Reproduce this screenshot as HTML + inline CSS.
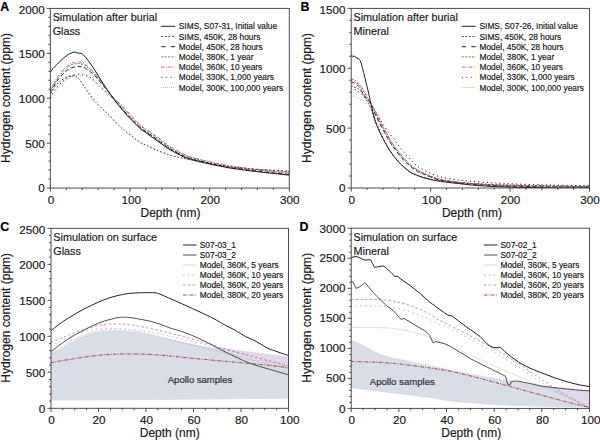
<!DOCTYPE html>
<html>
<head>
<meta charset="utf-8">
<title>Hydrogen content vs depth</title>
<style>
html,body{margin:0;padding:0;background:#ffffff;}
body{width:600px;height:441px;overflow:hidden;font-family:"Liberation Sans",sans-serif;}
svg{display:block;}
</style>
</head>
<body>
<svg width="600" height="441" viewBox="0 0 600 441" font-family="'Liberation Sans', sans-serif">
<rect width="600" height="441" fill="#ffffff"/>
<clipPath id="cpA"><rect x="50.35" y="8.40" width="238.95" height="179.65"/></clipPath>
<g clip-path="url(#cpA)">
<path d="M50.5,93.5 C51.2,92.3 53.4,88.5 55.0,86.5 C56.6,84.5 58.2,83.0 60.0,81.5 C61.8,80.0 63.8,78.5 66.0,77.5 C68.2,76.5 71.0,75.5 73.0,75.6 C75.0,75.7 76.0,76.0 78.0,78.0 C80.0,80.0 82.5,84.0 85.0,87.5 C87.5,91.0 90.3,95.7 93.0,99.0 C95.7,102.3 98.3,104.8 101.0,107.5 C103.7,110.2 106.0,112.2 109.2,115.4 C112.4,118.6 117.0,123.8 120.0,126.6 C123.0,129.4 123.7,129.8 127.0,132.4 C130.3,135.0 136.7,140.0 140.0,142.2 C143.3,144.4 144.5,144.4 147.0,145.6 C149.5,146.8 152.0,148.1 155.0,149.4 C158.0,150.7 161.7,152.2 165.0,153.4 C168.3,154.6 170.8,155.4 175.0,156.5 C179.2,157.6 184.3,158.6 190.0,159.8 C195.7,161.0 202.3,162.6 209.0,163.8 C215.7,165.0 223.2,166.1 230.0,167.0 C236.8,167.9 243.3,168.4 250.0,169.0 C256.7,169.6 263.5,169.9 270.0,170.3 C276.5,170.7 285.8,171.3 289.0,171.5" fill="none" stroke="#333" stroke-width="0.9" stroke-dasharray="1.9 1.7" stroke-linejoin="round"/>
<path d="M50.5,98.0 C51.1,96.8 52.4,93.3 54.0,91.0 C55.6,88.7 57.8,86.1 60.0,84.0 C62.2,81.9 64.7,80.0 67.0,78.5 C69.3,77.0 71.7,75.8 74.0,75.0 C76.3,74.2 78.4,73.9 80.6,74.0 C82.8,74.1 84.9,74.6 87.0,75.5 C89.1,76.4 90.8,77.7 93.0,79.5 C95.2,81.3 97.8,84.4 100.0,86.5 C102.2,88.6 103.8,89.9 106.0,92.0 C108.2,94.1 111.0,96.7 113.3,99.0 C115.6,101.3 117.5,103.3 120.0,106.0 C122.5,108.7 124.7,111.6 128.0,115.1 C131.3,118.6 135.5,123.1 140.0,126.9 C144.5,130.6 150.0,134.0 155.0,137.6 C160.0,141.2 165.0,145.3 170.0,148.4 C175.0,151.5 180.0,154.3 185.0,156.4 C190.0,158.5 195.0,159.5 200.0,160.8 C205.0,162.1 210.0,163.2 215.0,164.2 C220.0,165.2 224.2,165.9 230.0,166.6 C235.8,167.3 243.3,168.0 250.0,168.6 C256.7,169.2 263.5,169.6 270.0,170.0 C276.5,170.4 285.8,171.0 289.0,171.2" fill="none" stroke="#222222" stroke-width="1.0" stroke-dasharray="1.2 3" stroke-linejoin="round"/>
<path d="M50.5,99.5 C51.2,98.2 53.2,94.5 55.0,92.0 C56.8,89.5 58.8,86.7 61.0,84.5 C63.2,82.3 65.7,80.4 68.0,79.0 C70.3,77.6 72.8,76.6 75.0,76.0 C77.2,75.4 78.8,75.0 81.0,75.2 C83.2,75.4 85.8,76.0 88.0,77.0 C90.2,78.0 91.8,79.7 94.0,81.5 C96.2,83.3 98.8,85.9 101.0,88.0 C103.2,90.1 105.0,92.1 107.0,94.0 C109.0,95.9 111.1,97.4 113.3,99.6 C115.5,101.8 117.5,104.4 120.0,107.2 C122.5,110.0 124.7,112.8 128.0,116.3 C131.3,119.8 135.5,124.3 140.0,128.1 C144.5,131.8 150.0,135.2 155.0,138.8 C160.0,142.4 165.0,146.5 170.0,149.6 C175.0,152.7 180.0,155.5 185.0,157.6 C190.0,159.7 195.0,160.7 200.0,162.0 C205.0,163.3 210.0,164.3 215.0,165.4 C220.0,166.5 224.2,167.4 230.0,168.3 C235.8,169.2 243.3,170.2 250.0,171.0 C256.7,171.8 263.5,172.7 270.0,173.4 C276.5,174.1 285.8,175.1 289.0,175.4" fill="none" stroke="#9a9a9a" stroke-width="0.8" stroke-dasharray="0.8 1.2" stroke-linejoin="round"/>
<path d="M50.5,93.0 C51.1,91.8 52.6,88.4 54.0,86.0 C55.4,83.6 57.2,80.8 59.0,78.5 C60.8,76.2 63.0,73.8 65.0,72.0 C67.0,70.2 68.8,68.9 71.0,68.0 C73.2,67.1 75.8,66.6 78.0,66.5 C80.2,66.4 82.0,66.7 84.0,67.5 C86.0,68.3 88.0,69.9 90.0,71.5 C92.0,73.1 94.0,74.9 96.0,77.0 C98.0,79.1 100.0,81.6 102.0,84.0 C104.0,86.4 106.1,89.1 108.0,91.5 C109.9,93.9 111.3,95.7 113.3,98.2 C115.3,100.7 117.5,103.5 120.0,106.4 C122.5,109.3 124.7,112.0 128.0,115.5 C131.3,119.0 135.5,123.5 140.0,127.3 C144.5,131.1 150.0,134.4 155.0,138.0 C160.0,141.6 165.0,145.7 170.0,148.8 C175.0,151.9 180.0,154.7 185.0,156.8 C190.0,158.9 195.0,159.9 200.0,161.2 C205.0,162.5 210.0,163.5 215.0,164.6 C220.0,165.7 224.2,166.6 230.0,167.5 C235.8,168.4 243.3,169.3 250.0,170.2 C256.7,171.0 263.5,171.9 270.0,172.6 C276.5,173.3 285.8,174.3 289.0,174.6" fill="none" stroke="#222222" stroke-width="1.0" stroke-dasharray="4 2.6" stroke-linejoin="round"/>
<path d="M50.5,91.5 C51.1,90.3 52.6,87.0 54.0,84.5 C55.4,82.0 57.2,79.0 59.0,76.5 C60.8,74.0 63.0,71.4 65.0,69.5 C67.0,67.6 69.0,66.0 71.0,65.0 C73.0,64.0 75.0,63.6 77.0,63.5 C79.0,63.4 81.0,63.7 83.0,64.5 C85.0,65.3 87.0,66.8 89.0,68.5 C91.0,70.2 93.0,72.2 95.0,74.5 C97.0,76.8 99.0,79.4 101.0,82.0 C103.0,84.6 105.0,87.4 107.0,90.0 C109.0,92.6 111.0,95.2 113.3,97.8 C115.6,100.4 118.4,102.6 121.0,105.4 C123.6,108.2 125.7,111.0 129.0,114.5 C132.3,118.0 136.5,122.5 141.0,126.3 C145.5,130.1 151.0,133.4 156.0,137.0 C161.0,140.6 166.0,144.7 171.0,147.8 C176.0,150.9 181.0,153.7 186.0,155.8 C191.0,157.9 196.0,158.9 201.0,160.2 C206.0,161.5 211.0,162.5 216.0,163.6 C221.0,164.7 225.2,165.6 231.0,166.5 C236.8,167.4 244.3,168.3 251.0,169.2 C257.7,170.0 264.5,170.9 271.0,171.6 C277.5,172.3 286.8,173.3 290.0,173.6" fill="none" stroke="#555555" stroke-width="0.8" stroke-dasharray="2 1.4" stroke-linejoin="round"/>
<path d="M50.5,90.0 C51.1,88.8 52.6,85.5 54.0,83.0 C55.4,80.5 57.2,77.5 59.0,75.0 C60.8,72.5 63.0,69.9 65.0,68.0 C67.0,66.1 69.1,64.5 71.0,63.5 C72.9,62.5 74.8,61.9 76.6,61.8 C78.4,61.7 80.1,62.0 82.0,62.8 C83.9,63.6 86.0,64.9 88.0,66.5 C90.0,68.1 92.0,70.2 94.0,72.5 C96.0,74.8 98.0,77.4 100.0,80.0 C102.0,82.6 103.8,85.1 106.0,88.0 C108.2,90.9 110.7,94.7 113.3,97.5 C115.9,100.3 118.9,102.2 121.6,105.0 C124.3,107.8 126.3,110.6 129.6,114.1 C132.9,117.6 137.1,122.1 141.6,125.9 C146.1,129.6 151.6,133.0 156.6,136.6 C161.6,140.2 166.6,144.3 171.6,147.4 C176.6,150.5 181.6,153.3 186.6,155.4 C191.6,157.5 196.6,158.5 201.6,159.8 C206.6,161.1 211.6,162.1 216.6,163.2 C221.6,164.2 225.8,165.2 231.6,166.1 C237.4,167.0 244.9,167.9 251.6,168.8 C258.3,169.6 265.1,170.5 271.6,171.2 C278.1,171.9 287.4,172.9 290.6,173.2" fill="none" stroke="#c0506a" stroke-width="0.9" stroke-dasharray="3.2 1.4 1 1.4" stroke-linejoin="round"/>
<path d="M50.5,72.0 L53.0,68.6 L55.0,66.4 L57.5,64.0 L60.0,61.3 L63.0,58.5 L66.0,56.2 L69.0,54.0 L71.0,53.2 L74.0,52.0 L76.5,52.6 L78.5,53.2 L81.0,53.2 L82.5,54.0 L85.0,56.6 L88.0,60.3 L92.0,66.0 L96.0,72.0 L100.0,78.5 L104.0,85.0 L108.5,91.5 L113.3,98.4 L120.0,107.0 L128.0,116.4 L140.0,128.5 L155.0,139.3 L170.0,149.8 L185.0,157.5 L200.0,161.8 L215.0,165.0 L230.0,168.0 L250.0,170.8 L270.0,173.0 L289.0,175.0" fill="none" stroke="#222222" stroke-width="1.0" stroke-linejoin="round"/>
</g>
<rect x="50.35" y="8.40" width="238.95" height="179.65" fill="none" stroke="#454545" stroke-width="0.95"/>
<text x="44.65" y="192.45" font-size="11.7" text-anchor="end" font-weight="normal" fill="#1a1a1a" stroke="#1a1a1a" stroke-width="0.18">0</text>
<text x="44.65" y="147.54" font-size="11.7" text-anchor="end" font-weight="normal" fill="#1a1a1a" stroke="#1a1a1a" stroke-width="0.18">500</text>
<text x="44.65" y="102.63" font-size="11.7" text-anchor="end" font-weight="normal" fill="#1a1a1a" stroke="#1a1a1a" stroke-width="0.18">1000</text>
<text x="44.65" y="57.71" font-size="11.7" text-anchor="end" font-weight="normal" fill="#1a1a1a" stroke="#1a1a1a" stroke-width="0.18">1500</text>
<text x="44.65" y="13.50" font-size="11.7" text-anchor="end" font-weight="normal" fill="#1a1a1a" stroke="#1a1a1a" stroke-width="0.18">2000</text>
<text x="50.90" y="204.00" font-size="11.7" text-anchor="middle" font-weight="normal" fill="#1a1a1a" stroke="#1a1a1a" stroke-width="0.18">0</text>
<text x="131.20" y="204.00" font-size="11.7" text-anchor="middle" font-weight="normal" fill="#1a1a1a" stroke="#1a1a1a" stroke-width="0.18">100</text>
<text x="210.20" y="204.00" font-size="11.7" text-anchor="middle" font-weight="normal" fill="#1a1a1a" stroke="#1a1a1a" stroke-width="0.18">200</text>
<text x="289.85" y="204.00" font-size="11.7" text-anchor="middle" font-weight="normal" fill="#1a1a1a" stroke="#1a1a1a" stroke-width="0.18">300</text>
<path d="M46.75,188.05H50.35M46.75,143.14H50.35M46.75,98.23H50.35M46.75,53.31H50.35M46.75,8.40H50.35M48.35,179.07H50.35M48.35,170.09H50.35M48.35,161.10H50.35M48.35,152.12H50.35M48.35,134.16H50.35M48.35,125.17H50.35M48.35,116.19H50.35M48.35,107.21H50.35M48.35,89.24H50.35M48.35,80.26H50.35M48.35,71.28H50.35M48.35,62.30H50.35M48.35,44.33H50.35M48.35,35.35H50.35M48.35,26.37H50.35M48.35,17.38H50.35M50.35,188.05V191.65M130.00,188.05V191.65M209.65,188.05V191.65M289.30,188.05V191.65M66.28,188.05V190.05M82.21,188.05V190.05M98.14,188.05V190.05M114.07,188.05V190.05M145.93,188.05V190.05M161.86,188.05V190.05M177.79,188.05V190.05M193.72,188.05V190.05M225.58,188.05V190.05M241.51,188.05V190.05M257.44,188.05V190.05M273.37,188.05V190.05" stroke="#454545" stroke-width="0.95" fill="none"/>
<text x="0.30" y="10.80" font-size="12.4" text-anchor="start" font-weight="bold" fill="#000" stroke="#000" stroke-width="0.18">A</text>
<text x="52.65" y="21.10" font-size="10.8" text-anchor="start" font-weight="normal" fill="#1a1a1a" stroke="#1a1a1a" stroke-width="0.18">Simulation after burial</text>
<text x="52.65" y="34.80" font-size="10.8" text-anchor="start" font-weight="normal" fill="#1a1a1a" stroke="#1a1a1a" stroke-width="0.18">Glass</text>
<text x="170.53" y="216.90" font-size="12.0" text-anchor="middle" font-weight="normal" fill="#1a1a1a" stroke="#1a1a1a" stroke-width="0.18">Depth (nm)</text>
<text x="0.00" y="0.00" font-size="12.05" text-anchor="middle" font-weight="normal" fill="#1a1a1a" stroke="#1a1a1a" stroke-width="0.18" transform="translate(9.90,97.98) rotate(-90)">Hydrogen content (ppm)</text>
<path d="M161.30,26.30H175.30" stroke="#222222" stroke-width="1.0" fill="none"/>
<text x="178.80" y="29.30" font-size="8.35" text-anchor="start" font-weight="normal" fill="#1a1a1a" stroke="#1a1a1a" stroke-width="0.18">SIMS, S07-31, Initial value</text>
<path d="M161.30,36.50H175.30" stroke="#333" stroke-width="0.9" stroke-dasharray="1.9 1.7" fill="none"/>
<text x="178.80" y="39.50" font-size="8.35" text-anchor="start" font-weight="normal" fill="#1a1a1a" stroke="#1a1a1a" stroke-width="0.18">SIMS, 450K, 28 hours</text>
<path d="M161.30,46.70H175.30" stroke="#222222" stroke-width="1.0" stroke-dasharray="4.3 5.2" fill="none"/>
<text x="178.80" y="49.70" font-size="8.35" text-anchor="start" font-weight="normal" fill="#1a1a1a" stroke="#1a1a1a" stroke-width="0.18">Model, 450K, 28 hours</text>
<path d="M161.30,56.90H175.30" stroke="#555555" stroke-width="0.8" stroke-dasharray="2 1.4" fill="none"/>
<text x="178.80" y="59.90" font-size="8.35" text-anchor="start" font-weight="normal" fill="#1a1a1a" stroke="#1a1a1a" stroke-width="0.18">Model, 380K, 1 year</text>
<path d="M161.30,67.10H175.30" stroke="#c0506a" stroke-width="0.9" stroke-dasharray="3.2 1.4 1 1.4" fill="none"/>
<text x="178.80" y="70.10" font-size="8.35" text-anchor="start" font-weight="normal" fill="#1a1a1a" stroke="#1a1a1a" stroke-width="0.18">Model, 360K, 10 years</text>
<path d="M161.30,77.30H175.30" stroke="#444" stroke-width="1.0" stroke-dasharray="1.2 3.4" fill="none"/>
<text x="178.80" y="80.30" font-size="8.35" text-anchor="start" font-weight="normal" fill="#1a1a1a" stroke="#1a1a1a" stroke-width="0.18">Model, 330K, 1,000 years</text>
<path d="M161.30,87.50H175.30" stroke="#9a9a9a" stroke-width="0.8" stroke-dasharray="0.8 1.2" fill="none"/>
<text x="178.80" y="90.50" font-size="8.35" text-anchor="start" font-weight="normal" fill="#1a1a1a" stroke="#1a1a1a" stroke-width="0.18">Model, 300K, 100,000 years</text>
<clipPath id="cpB"><rect x="351.20" y="8.40" width="238.30" height="179.60"/></clipPath>
<g clip-path="url(#cpB)">
<path d="M350.6,86.2 C351.2,86.3 352.8,86.6 354.0,87.0 C355.2,87.4 356.7,87.8 358.0,88.7 C359.3,89.6 360.8,91.0 362.0,92.5 C363.2,94.0 364.0,96.3 365.0,98.0 C366.0,99.7 367.2,101.2 368.0,102.6 C368.8,104.0 369.1,104.3 370.0,106.5 C370.9,108.7 372.3,113.0 373.5,116.0 C374.7,119.0 375.9,121.8 377.0,124.4 C378.1,127.0 378.8,128.9 380.0,131.5 C381.2,134.1 382.8,137.6 384.0,140.0 C385.2,142.4 386.2,144.3 387.0,145.8 C387.8,147.3 387.8,147.1 389.0,149.0 C390.2,150.9 392.6,154.6 394.5,157.0 C396.4,159.4 397.5,161.1 400.4,163.7 C403.3,166.3 407.9,170.5 411.7,172.8 C415.5,175.1 419.3,176.1 423.0,177.3 C426.7,178.5 430.1,179.3 434.0,180.0 C437.9,180.7 440.5,180.6 446.5,181.2 C452.5,181.8 462.8,182.9 470.0,183.4 C477.2,183.9 483.3,184.1 490.0,184.4 C496.7,184.7 500.0,184.8 510.0,185.0 C520.0,185.2 536.8,185.6 550.0,185.8 C563.2,186.0 582.5,186.2 589.0,186.3" fill="none" stroke="#333" stroke-width="0.9" stroke-dasharray="1.9 1.7" stroke-linejoin="round"/>
<path d="M350.6,88.5 C351.5,88.8 354.3,89.2 356.0,90.0 C357.7,90.8 359.3,92.1 361.0,93.5 C362.7,94.9 364.5,97.0 366.0,98.5 C367.5,100.0 368.6,100.4 370.1,102.5 C371.6,104.6 373.4,108.2 375.0,111.0 C376.6,113.8 378.0,116.0 380.0,119.2 C382.0,122.4 384.4,126.5 387.0,130.2 C389.6,133.9 392.7,137.5 395.5,141.2 C398.3,144.9 401.2,149.0 404.0,152.4 C406.8,155.8 409.7,159.0 412.5,161.7 C415.3,164.4 416.8,166.1 421.0,168.5 C425.2,170.9 432.3,174.3 438.0,176.2 C443.7,178.0 449.7,178.8 455.0,179.6 C460.3,180.4 464.2,180.7 470.0,181.2 C475.8,181.7 483.3,182.3 490.0,182.7 C496.7,183.1 500.0,183.4 510.0,183.8 C520.0,184.2 536.8,184.7 550.0,185.0 C563.2,185.3 582.5,185.6 589.0,185.7" fill="none" stroke="#222222" stroke-width="1.0" stroke-dasharray="1.2 3" stroke-linejoin="round"/>
<path d="M350.6,95.5 C351.3,95.7 353.4,96.2 355.0,96.8 C356.6,97.4 358.5,98.2 360.0,99.0 C361.5,99.8 362.8,100.5 364.0,101.3 C365.2,102.1 366.0,103.0 367.0,104.0 C368.0,105.0 368.9,105.8 370.1,107.5 C371.3,109.2 372.6,112.4 374.0,114.5 C375.4,116.6 377.1,117.6 378.6,120.0 C380.1,122.4 381.6,125.9 383.1,128.7 C384.6,131.5 386.2,134.5 387.6,137.0 C389.0,139.5 390.2,141.6 391.6,143.8 C393.0,146.0 393.9,147.2 396.1,150.0 C398.3,152.8 401.8,157.5 404.6,160.5 C407.4,163.5 410.3,165.9 413.1,168.0 C415.9,170.1 417.4,171.1 421.6,173.0 C425.9,174.9 432.9,177.9 438.6,179.5 C444.3,181.1 450.3,181.8 455.6,182.5 C460.9,183.2 464.8,183.5 470.6,184.0 C476.4,184.5 483.9,185.0 490.6,185.4 C497.3,185.8 500.6,186.0 510.6,186.2 C520.6,186.4 537.4,186.6 550.6,186.8 C563.8,187.0 583.1,187.1 589.6,187.2" fill="none" stroke="#9a9a9a" stroke-width="0.8" stroke-dasharray="0.8 1.2" stroke-linejoin="round"/>
<path d="M350.6,82.2 C351.2,82.3 352.9,82.5 354.0,83.0 C355.1,83.5 356.0,84.2 357.0,85.0 C358.0,85.8 359.2,86.9 360.0,88.0 C360.8,89.1 361.0,90.0 362.0,91.7 C363.0,93.4 364.6,96.1 366.0,98.0 C367.4,99.9 368.8,100.8 370.1,103.0 C371.4,105.2 372.7,108.7 374.0,111.5 C375.3,114.3 376.6,117.1 378.0,120.0 C379.4,122.9 381.0,125.9 382.5,128.7 C384.0,131.5 385.6,134.5 387.0,137.0 C388.4,139.5 389.6,141.6 391.0,143.8 C392.4,146.0 393.3,147.2 395.5,150.0 C397.7,152.8 401.2,157.5 404.0,160.5 C406.8,163.5 409.7,165.9 412.5,168.0 C415.3,170.1 416.8,171.1 421.0,173.0 C425.2,174.9 432.3,177.9 438.0,179.5 C443.7,181.1 449.7,181.8 455.0,182.5 C460.3,183.2 464.2,183.5 470.0,184.0 C475.8,184.5 483.3,185.0 490.0,185.4 C496.7,185.8 500.0,186.0 510.0,186.2 C520.0,186.4 536.8,186.6 550.0,186.8 C563.2,187.0 582.5,187.1 589.0,187.2" fill="none" stroke="#222222" stroke-width="1.0" stroke-dasharray="4 2.6" stroke-linejoin="round"/>
<path d="M350.6,80.5 C351.2,80.6 352.9,80.8 354.0,81.3 C355.1,81.8 356.0,82.4 357.0,83.2 C358.0,84.0 359.0,84.8 360.0,86.0 C361.0,87.2 361.9,88.8 363.0,90.5 C364.1,92.2 365.3,94.5 366.5,96.5 C367.7,98.5 368.8,100.1 370.1,102.5 C371.4,104.9 373.1,108.2 374.5,111.0 C375.9,113.8 377.3,116.6 378.8,119.5 C380.3,122.4 381.8,125.4 383.3,128.2 C384.8,131.0 386.4,134.0 387.8,136.5 C389.2,139.0 390.4,141.1 391.8,143.3 C393.2,145.5 394.1,146.7 396.3,149.5 C398.5,152.3 402.0,157.0 404.8,160.0 C407.6,163.0 410.5,165.4 413.3,167.5 C416.1,169.6 417.6,170.6 421.8,172.5 C426.1,174.4 433.1,177.4 438.8,179.0 C444.5,180.6 450.5,181.2 455.8,182.0 C461.1,182.8 465.0,183.0 470.8,183.5 C476.6,184.0 484.1,184.5 490.8,184.9 C497.5,185.3 500.8,185.5 510.8,185.7 C520.8,185.9 537.6,186.1 550.8,186.3 C564.0,186.5 583.3,186.6 589.8,186.7" fill="none" stroke="#555555" stroke-width="0.8" stroke-dasharray="2 1.4" stroke-linejoin="round"/>
<path d="M350.6,78.8 C351.1,78.9 352.6,79.3 353.5,79.6 C354.4,79.9 355.1,80.1 356.0,80.8 C356.9,81.5 358.0,82.4 359.0,83.5 C360.0,84.6 361.0,86.1 362.0,87.6 C363.0,89.1 364.2,91.1 365.0,92.5 C365.8,93.9 366.1,94.3 367.0,95.8 C367.9,97.3 368.8,99.2 370.1,101.5 C371.4,103.8 373.2,107.0 374.6,109.5 C376.0,112.0 377.1,113.7 378.6,116.8 C380.2,119.9 382.3,124.8 383.9,128.1 C385.5,131.4 387.0,133.9 388.4,136.4 C389.8,138.9 391.0,141.0 392.4,143.2 C393.8,145.4 394.7,146.6 396.9,149.4 C399.1,152.2 402.6,156.9 405.4,159.9 C408.2,162.9 411.1,165.3 413.9,167.4 C416.7,169.5 418.1,170.5 422.4,172.4 C426.6,174.3 433.7,177.3 439.4,178.9 C445.1,180.5 451.1,181.2 456.4,181.9 C461.7,182.7 465.6,182.9 471.4,183.4 C477.2,183.9 484.7,184.4 491.4,184.8 C498.1,185.2 501.4,185.4 511.4,185.6 C521.4,185.8 538.2,186.0 551.4,186.2 C564.6,186.4 583.9,186.5 590.4,186.6" fill="none" stroke="#c0506a" stroke-width="0.9" stroke-dasharray="3.2 1.4 1 1.4" stroke-linejoin="round"/>
<path d="M350.6,56.3 L351.8,55.2 L353.0,56.8 L354.5,56.2 L356.0,57.6 L358.0,58.2 L360.0,60.4 L361.2,63.0 L362.3,67.2 L363.6,72.5 L365.0,78.0 L366.7,85.3 L367.7,89.0 L369.8,98.5 L370.5,102.0 L372.0,108.5 L375.2,121.5 L377.7,127.7 L380.3,133.3 L383.0,138.8 L386.0,144.0 L389.0,149.3 L394.5,157.3 L400.4,164.0 L406.0,169.0 L411.7,173.1 L423.0,177.6 L434.0,180.3 L445.7,182.1 L470.0,184.9 L490.0,186.3 L510.0,187.2 L550.0,187.8 L589.0,188.0" fill="none" stroke="#222222" stroke-width="1.0" stroke-linejoin="round"/>
</g>
<rect x="351.20" y="8.40" width="238.30" height="179.60" fill="none" stroke="#454545" stroke-width="0.95"/>
<text x="345.50" y="192.40" font-size="11.7" text-anchor="end" font-weight="normal" fill="#1a1a1a" stroke="#1a1a1a" stroke-width="0.18">0</text>
<text x="345.50" y="132.53" font-size="11.7" text-anchor="end" font-weight="normal" fill="#1a1a1a" stroke="#1a1a1a" stroke-width="0.18">500</text>
<text x="345.50" y="72.67" font-size="11.7" text-anchor="end" font-weight="normal" fill="#1a1a1a" stroke="#1a1a1a" stroke-width="0.18">1000</text>
<text x="345.50" y="13.60" font-size="11.7" text-anchor="end" font-weight="normal" fill="#1a1a1a" stroke="#1a1a1a" stroke-width="0.18">1500</text>
<text x="351.75" y="204.00" font-size="11.7" text-anchor="middle" font-weight="normal" fill="#1a1a1a" stroke="#1a1a1a" stroke-width="0.18">0</text>
<text x="431.83" y="204.00" font-size="11.7" text-anchor="middle" font-weight="normal" fill="#1a1a1a" stroke="#1a1a1a" stroke-width="0.18">100</text>
<text x="510.62" y="204.00" font-size="11.7" text-anchor="middle" font-weight="normal" fill="#1a1a1a" stroke="#1a1a1a" stroke-width="0.18">200</text>
<text x="590.05" y="204.00" font-size="11.7" text-anchor="middle" font-weight="normal" fill="#1a1a1a" stroke="#1a1a1a" stroke-width="0.18">300</text>
<path d="M347.60,188.00H351.20M347.60,128.13H351.20M347.60,68.27H351.20M347.60,8.40H351.20M349.20,176.03H351.20M349.20,164.05H351.20M349.20,152.08H351.20M349.20,140.11H351.20M349.20,116.16H351.20M349.20,104.19H351.20M349.20,92.21H351.20M349.20,80.24H351.20M349.20,56.29H351.20M349.20,44.32H351.20M349.20,32.35H351.20M349.20,20.37H351.20M351.20,188.00V191.60M430.63,188.00V191.60M510.07,188.00V191.60M589.50,188.00V191.60M367.09,188.00V190.00M382.97,188.00V190.00M398.86,188.00V190.00M414.75,188.00V190.00M446.52,188.00V190.00M462.41,188.00V190.00M478.29,188.00V190.00M494.18,188.00V190.00M525.95,188.00V190.00M541.84,188.00V190.00M557.73,188.00V190.00M573.61,188.00V190.00" stroke="#454545" stroke-width="0.95" fill="none"/>
<text x="300.60" y="10.80" font-size="12.4" text-anchor="start" font-weight="bold" fill="#000" stroke="#000" stroke-width="0.18">B</text>
<text x="353.50" y="21.10" font-size="10.8" text-anchor="start" font-weight="normal" fill="#1a1a1a" stroke="#1a1a1a" stroke-width="0.18">Simulation after burial</text>
<text x="353.50" y="34.80" font-size="10.8" text-anchor="start" font-weight="normal" fill="#1a1a1a" stroke="#1a1a1a" stroke-width="0.18">Mineral</text>
<text x="471.95" y="216.90" font-size="12.0" text-anchor="middle" font-weight="normal" fill="#1a1a1a" stroke="#1a1a1a" stroke-width="0.18">Depth (nm)</text>
<text x="0.00" y="0.00" font-size="12.05" text-anchor="middle" font-weight="normal" fill="#1a1a1a" stroke="#1a1a1a" stroke-width="0.18" transform="translate(311.20,97.95) rotate(-90)">Hydrogen content (ppm)</text>
<path d="M461.80,26.30H475.80" stroke="#222222" stroke-width="1.0" fill="none"/>
<text x="479.50" y="29.30" font-size="8.35" text-anchor="start" font-weight="normal" fill="#1a1a1a" stroke="#1a1a1a" stroke-width="0.18">SIMS, S07-26, Initial value</text>
<path d="M461.80,36.50H475.80" stroke="#333" stroke-width="0.9" stroke-dasharray="1.9 1.7" fill="none"/>
<text x="479.50" y="39.50" font-size="8.35" text-anchor="start" font-weight="normal" fill="#1a1a1a" stroke="#1a1a1a" stroke-width="0.18">SIMS, 450K, 28 hours</text>
<path d="M461.80,46.70H475.80" stroke="#222222" stroke-width="1.0" stroke-dasharray="4.3 5.2" fill="none"/>
<text x="479.50" y="49.70" font-size="8.35" text-anchor="start" font-weight="normal" fill="#1a1a1a" stroke="#1a1a1a" stroke-width="0.18">Model, 450K, 28 hours</text>
<path d="M461.80,56.90H475.80" stroke="#555555" stroke-width="0.8" stroke-dasharray="2 1.4" fill="none"/>
<text x="479.50" y="59.90" font-size="8.35" text-anchor="start" font-weight="normal" fill="#1a1a1a" stroke="#1a1a1a" stroke-width="0.18">Model, 380K, 1 year</text>
<path d="M461.80,67.10H475.80" stroke="#c0506a" stroke-width="0.9" stroke-dasharray="3.2 1.4 1 1.4" fill="none"/>
<text x="479.50" y="70.10" font-size="8.35" text-anchor="start" font-weight="normal" fill="#1a1a1a" stroke="#1a1a1a" stroke-width="0.18">Model, 360K, 10 years</text>
<path d="M461.80,77.30H475.80" stroke="#444" stroke-width="1.0" stroke-dasharray="1.2 3.4" fill="none"/>
<text x="479.50" y="80.30" font-size="8.35" text-anchor="start" font-weight="normal" fill="#1a1a1a" stroke="#1a1a1a" stroke-width="0.18">Model, 330K, 1,000 years</text>
<path d="M461.80,87.50H475.80" stroke="#9a9a9a" stroke-width="0.8" stroke-dasharray="0.8 1.2" fill="none"/>
<text x="479.50" y="90.50" font-size="8.35" text-anchor="start" font-weight="normal" fill="#1a1a1a" stroke="#1a1a1a" stroke-width="0.18">Model, 300K, 100,000 years</text>
<clipPath id="cpC"><rect x="51.00" y="228.35" width="237.50" height="179.95"/></clipPath>
<g clip-path="url(#cpC)">
<path d="M50.7,352.5 C51.9,352.0 55.6,350.6 58.0,349.5 C60.4,348.4 62.7,347.3 65.0,346.0 C67.3,344.7 69.5,342.9 72.0,341.5 C74.5,340.1 77.3,338.5 80.0,337.3 C82.7,336.1 85.5,335.0 88.0,334.2 C90.5,333.4 92.7,332.9 95.0,332.4 C97.3,331.9 99.5,331.6 102.0,331.3 C104.5,331.0 106.2,330.8 110.0,330.8 C113.8,330.8 120.0,330.9 125.0,331.2 C130.0,331.5 132.8,331.1 140.0,332.4 C147.2,333.7 158.0,336.6 168.0,338.8 C178.0,341.0 189.7,343.6 200.0,345.4 C210.3,347.2 220.0,348.1 230.0,349.5 C240.0,350.9 250.3,352.2 260.0,353.5 C269.7,354.8 283.7,356.4 288.4,357.0 L288.4,398.8 L200.0,399.6 L120.0,400.3 L50.7,400.6 Z" fill="#d9dde5" stroke="none"/>
<path d="M216,347 L288.4,356.8 L288.4,367.5 L250,359.5 L225,351.5 Z" fill="#e0d6ea" stroke="none"/>
<path d="M50.7,351.5 C51.9,351.0 55.6,349.4 58.0,348.3 C60.4,347.2 62.7,346.1 65.0,344.8 C67.3,343.5 69.5,341.8 72.0,340.4 C74.5,339.0 77.3,337.5 80.0,336.3 C82.7,335.1 85.5,334.1 88.0,333.3 C90.5,332.5 92.7,332.0 95.0,331.5 C97.3,331.0 99.5,330.8 102.0,330.5 C104.5,330.2 106.2,330.0 110.0,330.0 C113.8,330.0 120.0,330.2 125.0,330.5 C130.0,330.8 132.8,330.6 140.0,332.0 C147.2,333.4 158.0,336.5 168.0,339.0 C178.0,341.5 189.7,344.4 200.0,347.0 C210.3,349.6 220.0,352.0 230.0,354.5 C240.0,357.0 250.3,359.7 260.0,362.0 C269.7,364.3 283.7,367.4 288.4,368.5" fill="none" stroke="#a894aa" stroke-width="0.7" stroke-dasharray="0.9 1.2" stroke-linejoin="round"/>
<path d="M50.7,345.2 C51.9,344.8 55.6,343.6 58.0,342.6 C60.4,341.6 62.7,340.1 65.0,339.0 C67.3,337.9 69.5,337.0 72.0,336.0 C74.5,335.0 77.3,333.9 80.0,333.0 C82.7,332.1 85.5,331.2 88.0,330.6 C90.5,330.0 92.7,329.5 95.0,329.2 C97.3,328.9 99.5,328.7 102.0,328.6 C104.5,328.5 107.1,328.5 110.0,328.5 C112.9,328.5 116.1,328.6 119.4,328.7 C122.7,328.8 126.2,329.0 129.6,329.3 C133.0,329.6 136.6,329.9 140.0,330.4 C143.4,330.8 145.3,331.1 150.0,332.0 C154.7,332.9 161.3,334.3 168.0,335.8 C174.7,337.3 183.2,339.1 190.4,340.8 C197.6,342.5 204.2,344.2 211.0,346.0 C217.8,347.8 224.2,349.6 231.0,351.3 C237.8,353.1 244.8,354.8 251.6,356.5 C258.4,358.2 265.9,360.0 272.0,361.5 C278.1,363.0 285.7,364.7 288.4,365.3" fill="none" stroke="#cc94c4" stroke-width="0.9" stroke-dasharray="1.4 3.4" stroke-linejoin="round"/>
<path d="M50.7,342.2 C51.9,341.8 55.6,340.5 58.0,339.6 C60.4,338.7 62.7,337.7 65.0,336.7 C67.3,335.7 69.5,334.7 72.0,333.7 C74.5,332.7 77.3,331.6 80.0,330.7 C82.7,329.8 85.5,328.9 88.0,328.2 C90.5,327.4 92.7,326.8 95.0,326.2 C97.3,325.6 99.5,325.2 102.0,324.9 C104.5,324.5 107.1,324.2 110.0,324.1 C112.9,324.0 116.9,324.0 119.4,324.0 C121.9,324.0 122.9,324.1 125.0,324.3 C127.1,324.5 129.5,324.9 132.0,325.2 C134.5,325.5 137.0,325.9 140.0,326.4 C143.0,326.9 145.3,327.4 150.0,328.4 C154.7,329.4 161.3,330.9 168.0,332.6 C174.7,334.3 183.2,336.4 190.4,338.4 C197.6,340.4 204.2,342.6 211.0,344.6 C217.8,346.6 224.2,348.7 231.0,350.6 C237.8,352.5 244.8,354.1 251.6,356.0 C258.4,357.9 265.9,360.1 272.0,361.8 C278.1,363.5 285.7,365.3 288.4,366.0" fill="none" stroke="#bd7f94" stroke-width="0.8" stroke-dasharray="2.6 2.1" stroke-linejoin="round"/>
<path d="M50.7,362.7 C53.7,362.2 62.1,360.6 68.4,359.6 C74.8,358.6 82.0,357.4 88.8,356.5 C95.6,355.6 102.2,354.9 109.0,354.5 C115.8,354.1 122.8,353.9 129.6,353.9 C136.4,353.9 143.6,354.2 150.0,354.5 C156.4,354.8 159.7,355.1 168.0,355.9 C176.3,356.6 190.5,358.1 200.0,359.0 C209.5,359.9 216.7,360.6 225.0,361.3 C233.3,362.1 242.5,362.8 250.0,363.5 C257.5,364.2 263.6,364.8 270.0,365.5 C276.4,366.2 285.3,367.2 288.4,367.5" fill="none" stroke="#9c3a4c" stroke-width="0.95" stroke-dasharray="3.4 1.3 1 1.3" stroke-linejoin="round"/>
<path d="M50.7,351.6 C51.1,351.3 51.8,350.9 53.0,350.0 C54.2,349.1 56.0,347.7 58.0,346.2 C60.0,344.7 62.7,342.8 65.0,341.2 C67.3,339.6 69.5,338.1 72.0,336.6 C74.5,335.1 77.3,333.6 80.0,332.2 C82.7,330.8 85.5,329.2 88.0,328.0 C90.5,326.8 92.7,325.7 95.0,324.7 C97.3,323.7 99.5,322.7 102.0,321.8 C104.5,320.9 107.7,320.1 110.0,319.5 C112.3,318.9 114.2,318.4 116.0,318.0 C117.8,317.6 119.0,317.4 120.5,317.3 C122.0,317.2 123.4,317.1 125.0,317.2 C126.6,317.2 127.5,317.3 130.0,317.6 C132.5,317.9 136.7,318.6 140.0,319.2 C143.3,319.8 146.7,320.4 150.0,321.2 C153.3,322.0 156.7,323.1 160.0,324.2 C163.3,325.3 166.7,326.9 170.0,328.0 C173.3,329.1 176.6,329.8 180.0,330.9 C183.4,332.0 187.0,333.3 190.4,334.7 C193.8,336.1 197.2,337.6 200.6,339.2 C204.0,340.8 207.6,342.5 211.0,344.3 C214.4,346.1 217.7,348.1 221.0,349.8 C224.3,351.5 227.2,352.9 231.0,354.7 C234.8,356.5 239.6,359.0 243.6,360.7 C247.6,362.4 251.1,363.7 255.0,365.0 C258.9,366.3 263.3,367.5 267.1,368.6 C270.9,369.7 274.4,370.8 278.0,371.8 C281.6,372.8 286.7,374.3 288.4,374.8" fill="none" stroke="#484848" stroke-width="0.95" stroke-linejoin="round"/>
<path d="M50.7,331.2 C51.2,330.7 52.8,329.2 54.0,328.2 C55.2,327.2 56.2,326.5 58.0,325.2 C59.8,323.9 62.7,321.7 65.0,320.2 C67.3,318.7 69.5,317.5 72.0,316.0 C74.5,314.5 77.3,312.7 80.0,311.2 C82.7,309.7 85.5,308.2 88.0,307.0 C90.5,305.8 92.7,304.8 95.0,303.7 C97.3,302.6 99.5,301.6 102.0,300.6 C104.5,299.6 107.3,298.6 110.0,297.7 C112.7,296.8 115.5,296.1 118.0,295.5 C120.5,294.9 122.7,294.4 125.0,294.0 C127.3,293.6 129.5,293.4 132.0,293.2 C134.5,293.0 137.0,292.9 140.0,292.8 C143.0,292.7 147.5,292.6 150.0,292.6 C152.5,292.6 153.3,292.5 155.0,292.8 C156.7,293.1 157.5,293.2 160.0,294.2 C162.5,295.1 165.8,296.7 170.0,298.5 C174.2,300.3 180.0,302.9 185.0,305.2 C190.0,307.4 195.0,309.6 200.0,312.0 C205.0,314.4 210.8,317.1 215.0,319.3 C219.2,321.5 221.8,323.4 225.2,325.2 C228.6,327.0 232.0,328.5 235.4,330.4 C238.8,332.3 242.3,334.9 245.6,336.6 C248.9,338.3 251.4,338.9 255.0,340.8 C258.6,342.7 263.3,346.0 267.1,347.9 C270.9,349.8 274.4,350.7 278.0,352.0 C281.6,353.3 286.7,354.9 288.4,355.5" fill="none" stroke="#222222" stroke-width="1.0" stroke-linejoin="round"/>
<text x="200.00" y="382.50" font-size="9.5" text-anchor="middle" font-weight="normal" fill="#2a2c38" stroke="#2a2c38" stroke-width="0.18">Apollo samples</text>
</g>
<rect x="51.00" y="228.35" width="237.50" height="179.95" fill="none" stroke="#454545" stroke-width="0.95"/>
<text x="45.30" y="412.80" font-size="11.7" text-anchor="end" font-weight="normal" fill="#1a1a1a" stroke="#1a1a1a" stroke-width="0.18">0</text>
<text x="45.30" y="376.81" font-size="11.7" text-anchor="end" font-weight="normal" fill="#1a1a1a" stroke="#1a1a1a" stroke-width="0.18">500</text>
<text x="45.30" y="340.82" font-size="11.7" text-anchor="end" font-weight="normal" fill="#1a1a1a" stroke="#1a1a1a" stroke-width="0.18">1000</text>
<text x="45.30" y="304.83" font-size="11.7" text-anchor="end" font-weight="normal" fill="#1a1a1a" stroke="#1a1a1a" stroke-width="0.18">1500</text>
<text x="45.30" y="268.84" font-size="11.7" text-anchor="end" font-weight="normal" fill="#1a1a1a" stroke="#1a1a1a" stroke-width="0.18">2000</text>
<text x="45.30" y="234.35" font-size="11.7" text-anchor="end" font-weight="normal" fill="#1a1a1a" stroke="#1a1a1a" stroke-width="0.18">2500</text>
<text x="51.55" y="423.90" font-size="11.7" text-anchor="middle" font-weight="normal" fill="#1a1a1a" stroke="#1a1a1a" stroke-width="0.18">0</text>
<text x="99.05" y="423.90" font-size="11.7" text-anchor="middle" font-weight="normal" fill="#1a1a1a" stroke="#1a1a1a" stroke-width="0.18">20</text>
<text x="146.55" y="423.90" font-size="11.7" text-anchor="middle" font-weight="normal" fill="#1a1a1a" stroke="#1a1a1a" stroke-width="0.18">40</text>
<text x="194.05" y="423.90" font-size="11.7" text-anchor="middle" font-weight="normal" fill="#1a1a1a" stroke="#1a1a1a" stroke-width="0.18">60</text>
<text x="241.55" y="423.90" font-size="11.7" text-anchor="middle" font-weight="normal" fill="#1a1a1a" stroke="#1a1a1a" stroke-width="0.18">80</text>
<text x="289.70" y="423.90" font-size="11.7" text-anchor="middle" font-weight="normal" fill="#1a1a1a" stroke="#1a1a1a" stroke-width="0.18">100</text>
<path d="M47.40,408.30H51.00M47.40,372.31H51.00M47.40,336.32H51.00M47.40,300.33H51.00M47.40,264.34H51.00M47.40,228.35H51.00M49.00,401.10H51.00M49.00,393.90H51.00M49.00,386.71H51.00M49.00,379.51H51.00M49.00,365.11H51.00M49.00,357.91H51.00M49.00,350.72H51.00M49.00,343.52H51.00M49.00,329.12H51.00M49.00,321.92H51.00M49.00,314.73H51.00M49.00,307.53H51.00M49.00,293.13H51.00M49.00,285.93H51.00M49.00,278.74H51.00M49.00,271.54H51.00M49.00,257.14H51.00M49.00,249.94H51.00M49.00,242.75H51.00M49.00,235.55H51.00M51.00,408.30V411.90M98.50,408.30V411.90M146.00,408.30V411.90M193.50,408.30V411.90M241.00,408.30V411.90M288.50,408.30V411.90M62.88,408.30V410.30M74.75,408.30V410.30M86.62,408.30V410.30M110.38,408.30V410.30M122.25,408.30V410.30M134.12,408.30V410.30M157.88,408.30V410.30M169.75,408.30V410.30M181.62,408.30V410.30M205.38,408.30V410.30M217.25,408.30V410.30M229.12,408.30V410.30M252.88,408.30V410.30M264.75,408.30V410.30M276.62,408.30V410.30" stroke="#454545" stroke-width="0.95" fill="none"/>
<text x="0.20" y="230.75" font-size="12.4" text-anchor="start" font-weight="bold" fill="#000" stroke="#000" stroke-width="0.18">C</text>
<text x="53.30" y="241.05" font-size="10.8" text-anchor="start" font-weight="normal" fill="#1a1a1a" stroke="#1a1a1a" stroke-width="0.18">Simulation on surface</text>
<text x="53.30" y="254.75" font-size="10.8" text-anchor="start" font-weight="normal" fill="#1a1a1a" stroke="#1a1a1a" stroke-width="0.18">Glass</text>
<text x="169.75" y="436.80" font-size="12.0" text-anchor="middle" font-weight="normal" fill="#1a1a1a" stroke="#1a1a1a" stroke-width="0.18">Depth (nm)</text>
<text x="0.00" y="0.00" font-size="12.05" text-anchor="middle" font-weight="normal" fill="#1a1a1a" stroke="#1a1a1a" stroke-width="0.18" transform="translate(9.90,317.82) rotate(-90)">Hydrogen content (ppm)</text>
<path d="M183.00,245.00H196.50" stroke="#222222" stroke-width="1.0" fill="none"/>
<text x="199.80" y="248.00" font-size="8.35" text-anchor="start" font-weight="normal" fill="#1a1a1a" stroke="#1a1a1a" stroke-width="0.18">S07-03_1</text>
<path d="M183.00,255.00H196.50" stroke="#484848" stroke-width="0.95" fill="none"/>
<text x="199.80" y="258.00" font-size="8.35" text-anchor="start" font-weight="normal" fill="#1a1a1a" stroke="#1a1a1a" stroke-width="0.18">S07-03_2</text>
<path d="M183.00,265.00H196.50" stroke="#cfc6d4" stroke-width="0.8" fill="none"/>
<text x="199.80" y="268.00" font-size="8.35" text-anchor="start" font-weight="normal" fill="#1a1a1a" stroke="#1a1a1a" stroke-width="0.18">Model, 360K, 5 years</text>
<path d="M183.00,275.00H196.50" stroke="#cc94c4" stroke-width="0.9" stroke-dasharray="1.4 3.4" fill="none"/>
<text x="199.80" y="278.00" font-size="8.35" text-anchor="start" font-weight="normal" fill="#1a1a1a" stroke="#1a1a1a" stroke-width="0.18">Model, 360K, 10 years</text>
<path d="M183.00,285.00H196.50" stroke="#bd7f94" stroke-width="0.8" stroke-dasharray="2.6 2.1" fill="none"/>
<text x="199.80" y="288.00" font-size="8.35" text-anchor="start" font-weight="normal" fill="#1a1a1a" stroke="#1a1a1a" stroke-width="0.18">Model, 360K, 20 years</text>
<path d="M183.00,295.00H196.50" stroke="#9c3a4c" stroke-width="0.95" stroke-dasharray="3.4 1.3 1 1.3" fill="none"/>
<text x="199.80" y="298.00" font-size="8.35" text-anchor="start" font-weight="normal" fill="#1a1a1a" stroke="#1a1a1a" stroke-width="0.18">Model, 380K, 20 years</text>
<clipPath id="cpD"><rect x="351.20" y="228.20" width="238.30" height="180.20"/></clipPath>
<g clip-path="url(#cpD)">
<path d="M350.8,339.5 C352.8,340.4 359.0,343.0 363.0,345.0 C367.0,347.0 370.5,349.4 375.0,351.4 C379.5,353.4 383.8,355.3 390.0,357.0 C396.2,358.7 405.3,360.1 412.0,361.5 C418.7,362.9 423.7,363.9 430.0,365.2 C436.3,366.5 442.5,367.9 450.0,369.5 C457.5,371.1 466.7,372.9 475.0,374.5 C483.3,376.1 492.5,377.7 500.0,379.0 C507.5,380.3 513.3,381.4 520.0,382.5 C526.7,383.6 532.5,384.6 540.0,385.5 C547.5,386.4 556.8,387.2 565.0,388.0 C573.2,388.8 585.0,390.0 589.0,390.4 L589.0,407.6 L540.0,406.8 L500.0,405.5 L450.0,401.5 L430.0,398.0 L390.0,393.0 L350.8,387.9 Z" fill="#d9dde5" stroke="none"/>
<path d="M548,387.2 L570,389.4 L589,391.2 L589,407.6 L580,402.5 L565,394.5 Z" fill="#e2d8ec" stroke="none"/>
<path d="M350.8,327.6 C354.0,327.6 364.3,327.6 370.0,327.6 C375.7,327.6 380.8,327.6 385.0,327.8 C389.2,328.0 391.0,328.0 395.0,328.6 C399.0,329.2 404.9,330.4 409.0,331.2 C413.1,332.0 416.0,332.7 419.4,333.7 C422.8,334.7 425.3,335.7 429.6,337.3 C433.9,338.9 439.9,341.4 445.0,343.5 C450.1,345.6 454.2,347.5 460.0,350.2 C465.8,352.9 473.3,356.4 480.0,359.5 C486.7,362.6 493.3,365.6 500.0,368.5 C506.7,371.4 513.0,374.0 520.0,377.0 C527.0,380.0 535.2,383.7 541.9,386.5 C548.6,389.3 554.5,391.7 560.0,394.0 C565.5,396.3 570.2,398.3 575.0,400.5 C579.8,402.7 586.7,406.2 589.0,407.4" fill="none" stroke="#a894aa" stroke-width="0.7" stroke-dasharray="0.9 1.2" stroke-linejoin="round"/>
<path d="M350.8,306.1 C354.0,306.1 364.3,306.1 370.0,306.1 C375.7,306.2 380.8,306.0 385.0,306.4 C389.2,306.8 391.0,307.4 395.0,308.2 C399.0,309.0 404.9,310.0 409.0,311.2 C413.1,312.4 416.0,313.9 419.4,315.3 C422.8,316.7 426.2,317.9 429.6,319.4 C433.0,320.9 436.6,323.0 440.0,324.5 C443.4,326.0 446.7,327.1 450.0,328.6 C453.3,330.1 457.0,332.2 460.0,333.7 C463.0,335.2 464.7,336.1 468.0,337.8 C471.3,339.6 474.7,341.2 480.0,344.2 C485.3,347.1 493.3,351.5 500.0,355.5 C506.7,359.5 513.0,363.5 520.0,368.0 C527.0,372.5 535.2,378.3 541.9,382.5 C548.6,386.7 554.5,390.1 560.0,393.2 C565.5,396.2 570.2,398.4 575.0,400.8 C579.8,403.2 586.7,406.3 589.0,407.4" fill="none" stroke="#cc94c4" stroke-width="0.9" stroke-dasharray="1.4 3.4" stroke-linejoin="round"/>
<path d="M350.8,299.4 C353.2,299.4 360.1,299.4 365.0,299.4 C369.9,299.4 375.0,299.3 380.0,299.6 C385.0,299.9 390.2,300.5 395.0,301.4 C399.8,302.3 404.9,303.8 409.0,305.1 C413.1,306.4 416.0,307.7 419.4,309.2 C422.8,310.7 426.2,312.4 429.6,314.3 C433.0,316.2 436.6,318.5 440.0,320.4 C443.4,322.3 446.7,323.8 450.0,325.5 C453.3,327.2 457.0,329.1 460.0,330.6 C463.0,332.1 464.7,333.0 468.0,334.7 C471.3,336.4 474.7,338.1 480.0,341.0 C485.3,343.9 493.3,348.3 500.0,352.2 C506.7,356.1 513.0,359.9 520.0,364.5 C527.0,369.1 535.2,375.0 541.9,379.5 C548.6,384.0 554.5,388.1 560.0,391.5 C565.5,394.9 570.2,397.4 575.0,400.0 C579.8,402.6 586.7,406.2 589.0,407.4" fill="none" stroke="#bd7f94" stroke-width="0.8" stroke-dasharray="2.6 2.1" stroke-linejoin="round"/>
<path d="M350.8,361.5 C354.8,361.6 366.8,361.8 375.0,362.2 C383.2,362.6 391.7,363.1 400.0,364.0 C408.3,364.9 416.7,366.1 425.0,367.3 C433.3,368.5 440.8,369.4 450.0,371.2 C459.2,373.0 470.0,375.8 480.0,378.4 C490.0,380.9 500.0,383.8 510.0,386.5 C520.0,389.2 530.8,392.2 540.0,394.7 C549.2,397.2 556.8,399.4 565.0,401.5 C573.2,403.6 585.0,406.4 589.0,407.4" fill="none" stroke="#9c3a4c" stroke-width="0.95" stroke-dasharray="3.4 1.3 1 1.3" stroke-linejoin="round"/>
<path d="M350.8,280.6 L353.0,282.2 L356.0,288.4 L358.0,287.6 L360.0,286.7 L362.5,284.5 L364.3,283.0 L366.5,284.2 L368.4,286.7 L374.5,293.9 L380.6,300.0 L386.8,306.0 L393.0,310.2 L397.0,314.9 L401.0,319.4 L404.0,318.4 L409.0,321.4 L417.4,326.5 L425.5,331.2 L429.6,335.3 L431.6,339.8 L433.0,342.7 L436.0,341.6 L444.5,343.7 L450.6,346.7 L461.0,352.9 L471.0,359.0 L481.0,364.1 L491.4,369.2 L501.6,374.3 L505.7,376.3 L506.8,381.0 L507.8,384.5 L510.0,385.1 L511.4,381.4 L516.0,381.0 L530.0,383.5 L540.0,385.9 L560.0,388.3 L575.0,389.8 L589.0,390.9" fill="none" stroke="#484848" stroke-width="0.95" stroke-linejoin="round"/>
<path d="M350.8,257.8 L353.0,257.0 L356.0,256.5 L360.0,257.8 L363.0,259.5 L366.0,260.2 L368.5,259.6 L370.5,259.8 L372.5,263.5 L374.5,267.3 L376.5,267.0 L378.6,266.7 L382.7,265.9 L384.8,266.8 L386.8,268.4 L391.9,273.5 L395.0,276.5 L397.0,276.1 L403.0,280.6 L409.0,284.7 L419.4,292.9 L429.6,302.0 L440.0,309.6 L448.0,315.3 L452.0,315.9 L460.0,322.2 L470.0,329.4 L480.0,336.5 L488.0,344.7 L492.0,347.1 L497.0,347.8 L500.6,347.3 L505.0,351.8 L510.0,355.9 L520.0,363.1 L530.0,368.2 L540.0,372.2 L555.0,378.0 L570.0,382.6 L580.0,385.0 L589.0,386.6" fill="none" stroke="#222222" stroke-width="1.0" stroke-linejoin="round"/>
<text x="402.30" y="385.00" font-size="9.6" text-anchor="middle" font-weight="normal" fill="#2a2c38" stroke="#2a2c38" stroke-width="0.18">Apollo samples</text>
</g>
<rect x="351.20" y="228.20" width="238.30" height="180.20" fill="none" stroke="#454545" stroke-width="0.95"/>
<text x="345.50" y="412.50" font-size="11.7" text-anchor="end" font-weight="normal" fill="#1a1a1a" stroke="#1a1a1a" stroke-width="0.18">0</text>
<text x="345.50" y="382.47" font-size="11.7" text-anchor="end" font-weight="normal" fill="#1a1a1a" stroke="#1a1a1a" stroke-width="0.18">500</text>
<text x="345.50" y="352.43" font-size="11.7" text-anchor="end" font-weight="normal" fill="#1a1a1a" stroke="#1a1a1a" stroke-width="0.18">1000</text>
<text x="345.50" y="322.40" font-size="11.7" text-anchor="end" font-weight="normal" fill="#1a1a1a" stroke="#1a1a1a" stroke-width="0.18">1500</text>
<text x="345.50" y="292.37" font-size="11.7" text-anchor="end" font-weight="normal" fill="#1a1a1a" stroke="#1a1a1a" stroke-width="0.18">2000</text>
<text x="345.50" y="262.33" font-size="11.7" text-anchor="end" font-weight="normal" fill="#1a1a1a" stroke="#1a1a1a" stroke-width="0.18">2500</text>
<text x="345.50" y="232.60" font-size="11.7" text-anchor="end" font-weight="normal" fill="#1a1a1a" stroke="#1a1a1a" stroke-width="0.18">3000</text>
<text x="351.75" y="423.90" font-size="11.7" text-anchor="middle" font-weight="normal" fill="#1a1a1a" stroke="#1a1a1a" stroke-width="0.18">0</text>
<text x="399.41" y="423.90" font-size="11.7" text-anchor="middle" font-weight="normal" fill="#1a1a1a" stroke="#1a1a1a" stroke-width="0.18">20</text>
<text x="447.07" y="423.90" font-size="11.7" text-anchor="middle" font-weight="normal" fill="#1a1a1a" stroke="#1a1a1a" stroke-width="0.18">40</text>
<text x="494.73" y="423.90" font-size="11.7" text-anchor="middle" font-weight="normal" fill="#1a1a1a" stroke="#1a1a1a" stroke-width="0.18">60</text>
<text x="542.39" y="423.90" font-size="11.7" text-anchor="middle" font-weight="normal" fill="#1a1a1a" stroke="#1a1a1a" stroke-width="0.18">80</text>
<text x="590.70" y="423.90" font-size="11.7" text-anchor="middle" font-weight="normal" fill="#1a1a1a" stroke="#1a1a1a" stroke-width="0.18">100</text>
<path d="M347.60,408.40H351.20M347.60,378.37H351.20M347.60,348.33H351.20M347.60,318.30H351.20M347.60,288.27H351.20M347.60,258.23H351.20M347.60,228.20H351.20M349.20,402.39H351.20M349.20,396.39H351.20M349.20,390.38H351.20M349.20,384.37H351.20M349.20,372.36H351.20M349.20,366.35H351.20M349.20,360.35H351.20M349.20,354.34H351.20M349.20,342.33H351.20M349.20,336.32H351.20M349.20,330.31H351.20M349.20,324.31H351.20M349.20,312.29H351.20M349.20,306.29H351.20M349.20,300.28H351.20M349.20,294.27H351.20M349.20,282.26H351.20M349.20,276.25H351.20M349.20,270.25H351.20M349.20,264.24H351.20M349.20,252.23H351.20M349.20,246.22H351.20M349.20,240.21H351.20M349.20,234.21H351.20M351.20,408.40V412.00M398.86,408.40V412.00M446.52,408.40V412.00M494.18,408.40V412.00M541.84,408.40V412.00M589.50,408.40V412.00M363.12,408.40V410.40M375.03,408.40V410.40M386.94,408.40V410.40M410.77,408.40V410.40M422.69,408.40V410.40M434.61,408.40V410.40M458.44,408.40V410.40M470.35,408.40V410.40M482.26,408.40V410.40M506.10,408.40V410.40M518.01,408.40V410.40M529.93,408.40V410.40M553.75,408.40V410.40M565.67,408.40V410.40M577.59,408.40V410.40" stroke="#454545" stroke-width="0.95" fill="none"/>
<text x="299.40" y="230.60" font-size="12.4" text-anchor="start" font-weight="bold" fill="#000" stroke="#000" stroke-width="0.18">D</text>
<text x="353.50" y="240.90" font-size="10.8" text-anchor="start" font-weight="normal" fill="#1a1a1a" stroke="#1a1a1a" stroke-width="0.18">Simulation on surface</text>
<text x="353.50" y="254.60" font-size="10.8" text-anchor="start" font-weight="normal" fill="#1a1a1a" stroke="#1a1a1a" stroke-width="0.18">Mineral</text>
<text x="471.25" y="436.80" font-size="12.0" text-anchor="middle" font-weight="normal" fill="#1a1a1a" stroke="#1a1a1a" stroke-width="0.18">Depth (nm)</text>
<text x="0.00" y="0.00" font-size="12.05" text-anchor="middle" font-weight="normal" fill="#1a1a1a" stroke="#1a1a1a" stroke-width="0.18" transform="translate(311.20,317.80) rotate(-90)">Hydrogen content (ppm)</text>
<path d="M484.00,245.00H497.50" stroke="#222222" stroke-width="1.0" fill="none"/>
<text x="500.50" y="248.00" font-size="8.35" text-anchor="start" font-weight="normal" fill="#1a1a1a" stroke="#1a1a1a" stroke-width="0.18">S07-02_1</text>
<path d="M484.00,255.00H497.50" stroke="#484848" stroke-width="0.95" fill="none"/>
<text x="500.50" y="258.00" font-size="8.35" text-anchor="start" font-weight="normal" fill="#1a1a1a" stroke="#1a1a1a" stroke-width="0.18">S07-02_2</text>
<path d="M484.00,265.00H497.50" stroke="#cfc6d4" stroke-width="0.8" fill="none"/>
<text x="500.50" y="268.00" font-size="8.35" text-anchor="start" font-weight="normal" fill="#1a1a1a" stroke="#1a1a1a" stroke-width="0.18">Model, 360K, 5 years</text>
<path d="M484.00,275.00H497.50" stroke="#cc94c4" stroke-width="0.9" stroke-dasharray="1.4 3.4" fill="none"/>
<text x="500.50" y="278.00" font-size="8.35" text-anchor="start" font-weight="normal" fill="#1a1a1a" stroke="#1a1a1a" stroke-width="0.18">Model, 360K, 10 years</text>
<path d="M484.00,285.00H497.50" stroke="#bd7f94" stroke-width="0.8" stroke-dasharray="2.6 2.1" fill="none"/>
<text x="500.50" y="288.00" font-size="8.35" text-anchor="start" font-weight="normal" fill="#1a1a1a" stroke="#1a1a1a" stroke-width="0.18">Model, 360K, 20 years</text>
<path d="M484.00,295.00H497.50" stroke="#9c3a4c" stroke-width="0.95" stroke-dasharray="3.4 1.3 1 1.3" fill="none"/>
<text x="500.50" y="298.00" font-size="8.35" text-anchor="start" font-weight="normal" fill="#1a1a1a" stroke="#1a1a1a" stroke-width="0.18">Model, 380K, 20 years</text>
</svg>
</body>
</html>
